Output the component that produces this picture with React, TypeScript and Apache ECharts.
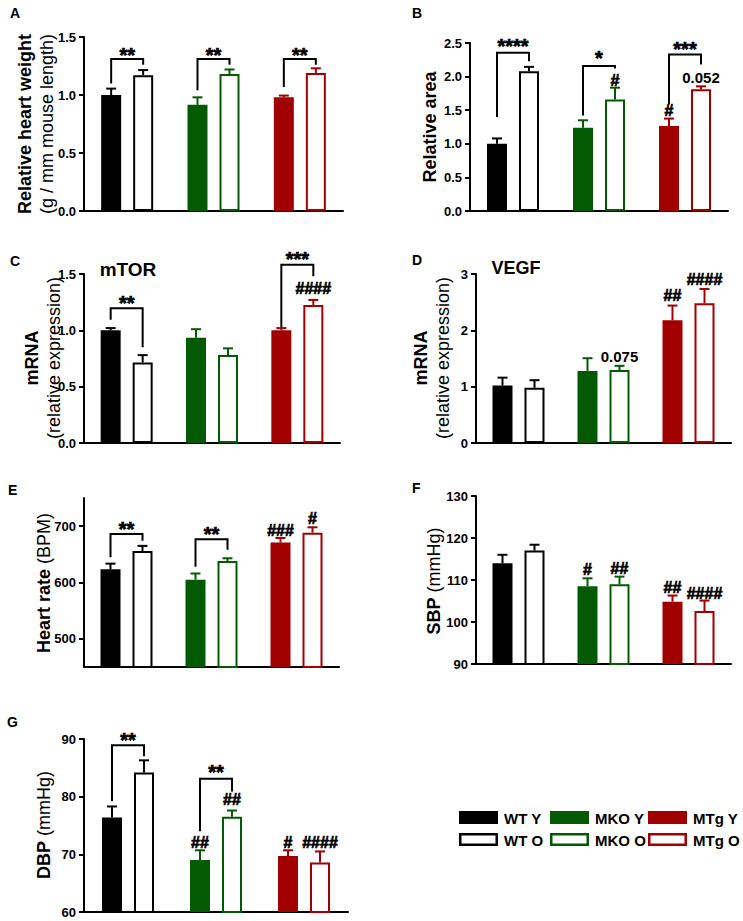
import React, { useEffect, useRef } from "react";
import * as echarts from "echarts";

const FONT = "Arial, 'Liberation Sans', Helvetica, sans-serif";

const groups = ["WT", "MKO", "MTg"];

// A: relative heart weight
const heartWeightY = [1.0, 0.915, 0.98];
const heartWeightYSem = [0.055, 0.065, 0.015];
const heartWeightO = [1.17, 1.18, 1.19];
const heartWeightOSem = [0.045, 0.04, 0.04];
const heartWeightBrackets = [[0, 1.31, 1.1, 1.26], [1, 1.31, 1.04, 1.26], [2, 1.31, 1.07, 1.26]];
const heartWeightMarks: any[] = [[0, 0, 1.376, "**"], [1, 0, 1.376, "**"], [2, 0, 1.376, "**"]];

// B: relative area
const areaY = [1.0, 1.24, 1.265];
const areaYSem = [0.08, 0.11, 0.11];
const areaO = [2.08, 1.66, 1.81];
const areaOSem = [0.065, 0.175, 0.045];
const areaBrackets = [[0, 2.356, 1.4, 2.227], [1, 2.158, 1.42, 2.12], [2, 2.33, 1.59, 2.18]];
const areaMarks: any[] = [[0, 0, 2.515, "****"], [1, 0, 2.34, "*"], [1, 1, 1.94, "#"], [2, 0, 2.475, "***"], [2, -1, 1.5, "#"], [2, 1, 1.98, "0.052"]];

// C: mTOR mRNA
const mtorY = [1.0, 0.935, 1.0];
const mtorYSem = [0.02, 0.075, 0.02];
const mtorO = [0.715, 0.78, 1.225];
const mtorOSem = [0.065, 0.06, 0.045];
const mtorBrackets = [[0, 1.197, 1.093, 0.85], [2, 1.583, 1.028, 1.479]];
const mtorMarks: any[] = [[0, 0, 1.277, "**"], [2, 0, 1.67, "***"], [2, 1, 1.369, "####"]];

// D: VEGF mRNA
const vegfY = [1.02, 1.28, 2.18];
const vegfYSem = [0.14, 0.225, 0.26];
const vegfO = [0.98, 1.295, 2.48];
const vegfOSem = [0.135, 0.075, 0.255];
const vegfBrackets: number[][] = [];
const vegfMarks: any[] = [[1, 1, 1.533, "0.075"], [2, -1, 2.614, "##"], [2, 1, 2.911, "####"]];

// E: heart rate
const heartRateY = [623.5, 605, 671];
const heartRateYSem = [10, 11, 8];
const heartRateO = [656, 638, 688.5];
const heartRateOSem = [9, 5, 9.5];
const heartRateBrackets = [[0, 686, 645, 674], [1, 676.7, 628, 658]];
const heartRateMarks: any[] = [[0, 0, 702, "**"], [1, 0, 693, "**"], [2, -1, 693, "###"], [2, 1, 714, "#"]];
const heartRateTicks = [500, 600, 700];

// F: SBP
const sbpY = [114, 108.5, 104.8];
const sbpYSem = [2.0, 1.9, 1.5];
const sbpO = [117, 109, 102.6];
const sbpOSem = [1.4, 1.8, 2.5];
const sbpBrackets: number[][] = [];
const sbpMarks: any[] = [[1, -1, 112.4, "#"], [1, 1, 112.7, "##"], [2, -1, 108.3, "##"], [2, 1, 106.7, "####"]];

// G: DBP
const dbpY = [76.4, 69.0, 69.7];
const dbpYSem = [1.9, 1.7, 1.0];
const dbpO = [84.2, 76.5, 68.6];
const dbpOSem = [2.1, 1.1, 1.9];
const dbpBrackets = [[0, 88.9, 79.2, 87.0], [1, 83.1, 74.0, 80.9]];
const dbpMarks: any[] = [[0, 0, 90.6, "**"], [1, 0, 85.0, "**"], [1, -1, 72.0, "##"], [1, 1, 79.5, "##"], [2, -1, 72.1, "#"], [2, 1, 72.0, "####"]];

const groupColors = ["#000000", "#035a03", "#a00000"];
const BAR_OFF = 16;

const fmt1 = (v: number) => v.toFixed(1);
const fmt0 = (v: number) => String(Math.round(v));

const panels: any[] = [
  { grid: { left: 84, top: 37, width: 259, height: 174 }, min: 0, max: 1.5, interval: 0.5, fmt: fmt1,
    y: heartWeightY, ys: heartWeightYSem, o: heartWeightO, os: heartWeightOSem, br: heartWeightBrackets, mk: heartWeightMarks },
  { grid: { left: 470, top: 43, width: 258, height: 168 }, min: 0, max: 2.5, interval: 0.5, fmt: fmt1,
    y: areaY, ys: areaYSem, o: areaO, os: areaOSem, br: areaBrackets, mk: areaMarks },
  { grid: { left: 84, top: 274, width: 256, height: 169 }, min: 0, max: 1.5, interval: 0.5, fmt: fmt1,
    y: mtorY, ys: mtorYSem, o: mtorO, os: mtorOSem, br: mtorBrackets, mk: mtorMarks },
  { grid: { left: 476, top: 274, width: 255, height: 169 }, min: 0, max: 3, interval: 1, fmt: fmt0,
    y: vegfY, ys: vegfYSem, o: vegfO, os: vegfOSem, br: vegfBrackets, mk: vegfMarks },
  { grid: { left: 84, top: 498, width: 255, height: 169 }, min: 450, max: 750, custom: heartRateTicks, fmt: fmt0,
    y: heartRateY, ys: heartRateYSem, o: heartRateO, os: heartRateOSem, br: heartRateBrackets, mk: heartRateMarks },
  { grid: { left: 476, top: 496, width: 255, height: 168 }, min: 90, max: 130, interval: 10, fmt: fmt0,
    y: sbpY, ys: sbpYSem, o: sbpO, os: sbpOSem, br: sbpBrackets, mk: sbpMarks },
  { grid: { left: 84, top: 739, width: 264, height: 173 }, min: 60, max: 90, interval: 10, fmt: fmt0,
    y: dbpY, ys: dbpYSem, o: dbpO, os: dbpOSem, br: dbpBrackets, mk: dbpMarks },
];

function errSeries(i: number, means: number[], sems: number[], off: number) {
  return {
    type: "custom",
    xAxisIndex: i,
    yAxisIndex: i,
    z: 4,
    encode: { x: 0, y: [1, 2] },
    data: means.map((m, g) => [g, m, m + sems[g]]),
    renderItem: (params: any, api: any) => {
      const g = api.value(0);
      const p0 = api.coord([g, api.value(1)]);
      const p1 = api.coord([g, api.value(2)]);
      const x = p0[0] + off;
      const c = groupColors[g];
      return {
        type: "group",
        children: [
          { type: "line", shape: { x1: x, y1: p0[1], x2: x, y2: p1[1] }, style: { stroke: c, lineWidth: 2 } },
          { type: "line", shape: { x1: x - 5, y1: p1[1], x2: x + 5, y2: p1[1] }, style: { stroke: c, lineWidth: 2 } },
        ],
      };
    },
  };
}

function bracketSeries(i: number, br: number[][]) {
  return {
    type: "custom",
    xAxisIndex: i,
    yAxisIndex: i,
    z: 5,
    encode: { x: 0, y: [1, 2, 3] },
    data: br,
    renderItem: (params: any, api: any) => {
      const g = api.value(0);
      const top = api.coord([g, api.value(1)]);
      const l = api.coord([g, api.value(2)]);
      const r = api.coord([g, api.value(3)]);
      const xl = top[0] - BAR_OFF;
      const xr = top[0] + BAR_OFF;
      return {
        type: "polyline",
        shape: { points: [[xl, l[1]], [xl, top[1]], [xr, top[1]], [xr, r[1]]] },
        style: { stroke: "#000", lineWidth: 2, fill: "none" },
      };
    },
  };
}

function markSeries(i: number, mk: any[]) {
  return {
    type: "custom",
    xAxisIndex: i,
    yAxisIndex: i,
    z: 6,
    encode: { x: 0, y: 1 },
    data: mk.map((m) => [m[0], m[2]]),
    renderItem: (params: any, api: any) => {
      const m = mk[params.dataIndex];
      const p = api.coord([api.value(0), api.value(1)]);
      const t: string = m[3];
      const star = t[0] === "*";
      const hash = t[0] === "#";
      const fs = star ? 20 : hash ? 16 : 15;
      return {
        type: "text",
        x: p[0] + m[1] * BAR_OFF,
        y: p[1] + (star ? fs * 0.2 : 0),
        style: {
          text: t, fontSize: fs, fontWeight: "bold", fontFamily: FONT, fill: "#000",
          stroke: star || hash ? "#000" : undefined, lineWidth: star || hash ? 0.7 : 0,
          align: "center", verticalAlign: "middle",
        },
      };
    },
  };
}

function rotTitle(x: number, y: number, text: string) {
  return {
    type: "text",
    x,
    y,
    rotation: Math.PI / 2,
    style: {
      text,
      rich: {
        b: { fontSize: 18, fontWeight: "bold", fontFamily: FONT, lineHeight: 22, fill: "#000" },
        n: { fontSize: 18, fontFamily: FONT, lineHeight: 22, fill: "#000" },
      },
      align: "center",
      verticalAlign: "middle",
    },
  };
}

function letter(x: number, y: number, t: string) {
  return { type: "text", x, y, style: { text: t, fontSize: 14, fontWeight: "bold", fontFamily: FONT, fill: "#000", align: "left", verticalAlign: "middle" } };
}

function legendItems() {
  const xs = [459, 550, 648];
  const ys = [811, 833];
  const items: any[] = [];
  groups.forEach((g, gi) => {
    ["Y", "O"].forEach((age, ai) => {
      const x = xs[gi];
      const y = ys[ai];
      const c = groupColors[gi];
      items.push(
        ai === 0
          ? { type: "rect", shape: { x, y, width: 39, height: 13 }, style: { fill: c } }
          : { type: "rect", shape: { x: x + 1.25, y: y + 1.25, width: 36.5, height: 10.5 }, style: { fill: "#fff", stroke: c, lineWidth: 2.5 } }
      );
      items.push({
        type: "text",
        x: x + 45,
        y: y + 7,
        style: { text: `${g} ${age}`, fontSize: 15, fontWeight: "bold", fontFamily: FONT, fill: "#000", align: "left", verticalAlign: "middle" },
      });
    });
  });
  return items;
}

export default function App() {
  const ref = useRef<HTMLDivElement>(null);
  useEffect(() => {
    if (!ref.current) return;
    const chart = echarts.init(ref.current, undefined, { renderer: "svg" });
    const series: any[] = [];
    panels.forEach((p, i) => {
      series.push({
        type: "bar",
        xAxisIndex: i,
        yAxisIndex: i,
        barWidth: 20,
        barGap: "60%",
        z: 2,
        data: p.y.map((v: number, g: number) => ({ value: v, itemStyle: { color: groupColors[g] } })),
      });
      series.push({
        type: "bar",
        xAxisIndex: i,
        yAxisIndex: i,
        barWidth: 20,
        barGap: "60%",
        z: 2,
        data: p.o.map((v: number, g: number) => ({ value: v, itemStyle: { color: "#fff", borderColor: groupColors[g], borderWidth: 2 } })),
      });
      series.push(errSeries(i, p.y, p.ys, -BAR_OFF));
      series.push(errSeries(i, p.o, p.os, BAR_OFF));
      if (p.br.length) series.push(bracketSeries(i, p.br));
      if (p.mk.length) series.push(markSeries(i, p.mk));
    });
    const option: any = {
      animation: false,
      backgroundColor: "#fff",
      grid: panels.map((p) => ({ ...p.grid, containLabel: false })),
      xAxis: panels.map((p, i) => ({
        type: "category",
        gridIndex: i,
        data: groups,
        axisLine: { onZero: false, lineStyle: { color: "#000", width: 2 } },
        axisTick: { show: false },
        axisLabel: { show: false },
        splitLine: { show: false },
      })),
      yAxis: panels.map((p, i) => {
        const ax: any = {
          type: "value",
          gridIndex: i,
          min: p.min,
          max: p.max,
          axisLine: { show: true, lineStyle: { color: "#000", width: 2 } },
          axisTick: { show: true, length: 5, lineStyle: { color: "#000", width: 2 } },
          axisLabel: { color: "#000", fontWeight: "bold", fontSize: 13, fontFamily: FONT, margin: 8, formatter: p.fmt },
          splitLine: { show: false },
        };
        if (p.interval) ax.interval = p.interval;
        if (p.custom) {
          ax.axisTick.customValues = p.custom;
          ax.axisLabel.customValues = p.custom;
        }
        return ax;
      }),
      series,
      graphic: [
        letter(10, 13, "A"),
        letter(412, 13, "B"),
        letter(10, 261, "C"),
        letter(412, 260, "D"),
        letter(8, 490, "E"),
        letter(412, 488, "F"),
        letter(7, 722, "G"),
        rotTitle(36, 124, "{b|Relative heart weight}\n{n|(g / mm mouse length)}"),
        rotTitle(430, 127, "{b|Relative area}"),
        rotTitle(43, 358, "{b|mRNA}\n{n|(relative expression)}"),
        rotTitle(432, 358, "{b|mRNA}\n{n|(relative expression)}"),
        rotTitle(44, 583, "{b|Heart rate}{n| (BPM)}"),
        rotTitle(434, 581, "{b|SBP}{n| (mmHg)}"),
        rotTitle(44, 825, "{b|DBP}{n| (mmHg)}"),
        { type: "text", x: 128, y: 269, style: { text: "mTOR", fontSize: 19, fontWeight: "bold", fontFamily: FONT, fill: "#000", align: "center", verticalAlign: "middle" } },
        { type: "text", x: 516, y: 268, style: { text: "VEGF", fontSize: 18, fontWeight: "bold", fontFamily: FONT, fill: "#000", align: "center", verticalAlign: "middle" } },
        ...legendItems(),
      ],
    };
    chart.setOption(option);
    return () => chart.dispose();
  }, []);
  return <div ref={ref} style={{ position: "absolute", left: 0, top: 0, width: 743, height: 921, background: "#fff" }} />;
}
